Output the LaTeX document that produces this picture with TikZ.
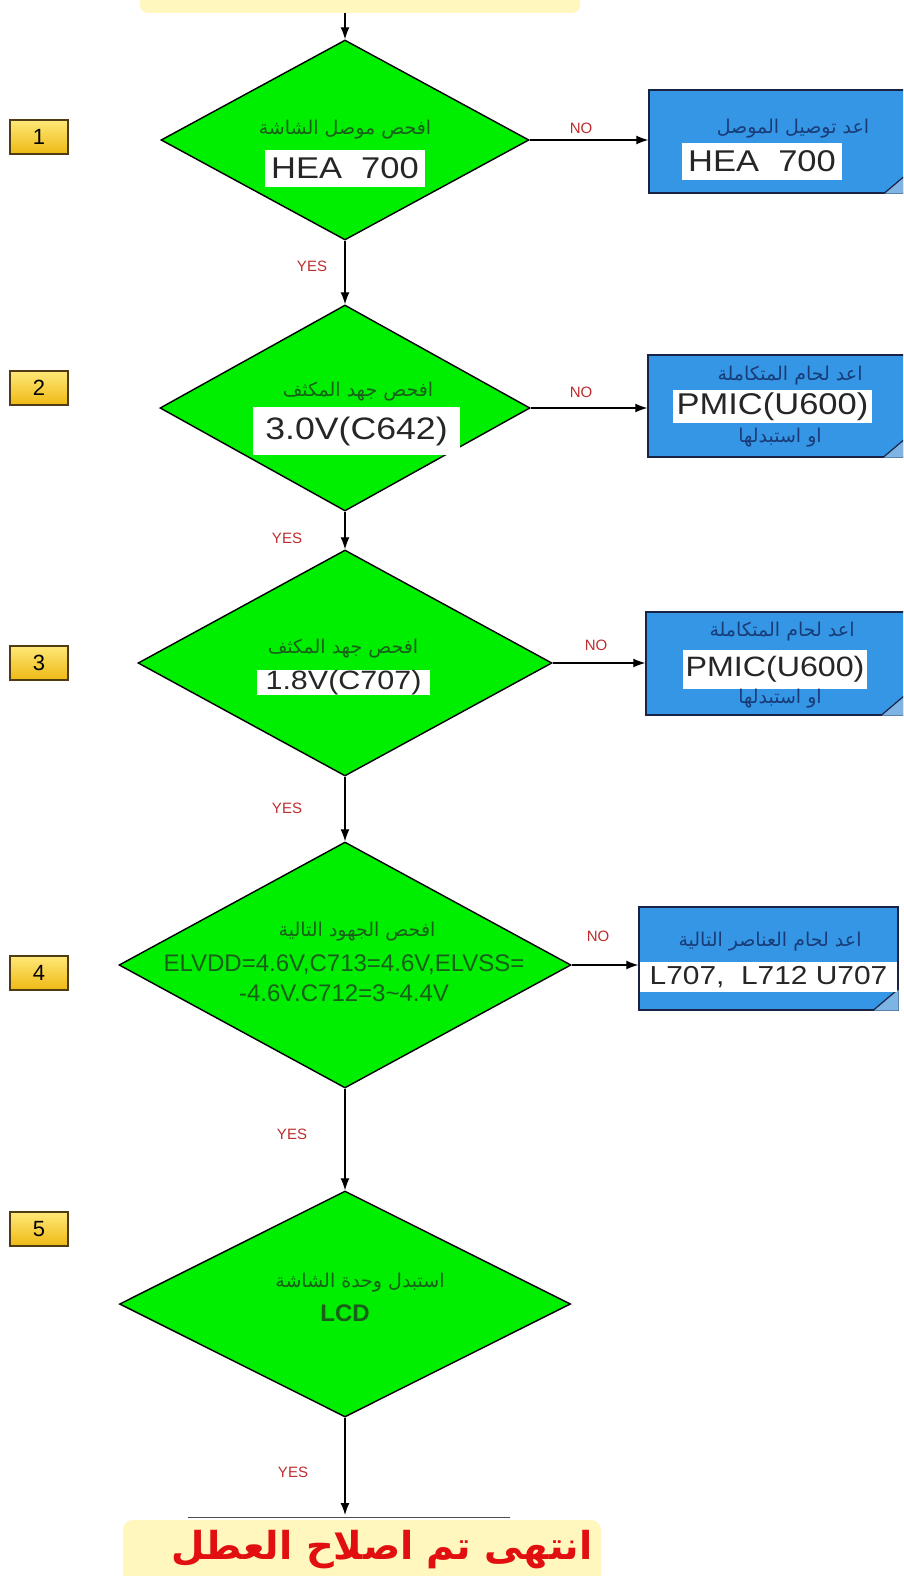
\documentclass[tikz,border=0pt]{standalone}
\usepackage{fontspec}
\setmainfont{Liberation Sans}
\newfontfamily\lab[FakeStretch=1.15]{Liberation Sans}
\newfontfamily\arabicfont[Script=Arabic]{DejaVu Sans}
\TeXXeTstate=1
\usetikzlibrary{shapes.geometric,arrows.meta,calc}
\definecolor{dgreen}{RGB}{0,238,0}
\definecolor{dtext}{RGB}{25,95,25}
\definecolor{bfill}{RGB}{52,150,228}
\definecolor{bline}{RGB}{25,35,70}
\definecolor{btext}{RGB}{25,60,120}
\definecolor{lblred}{RGB}{190,45,45}
\definecolor{pale}{RGB}{255,247,190}
\definecolor{endred}{RGB}{225,15,15}
\definecolor{goldtop}{RGB}{255,232,120}
\definecolor{goldbot}{RGB}{238,185,20}
\definecolor{foldc}{RGB}{125,180,228}
\tikzset{
 dia/.style={diamond, draw=black, line width=1.4pt, fill=dgreen, inner sep=0pt},
 bluebox/.style={rectangle, draw=bline, line width=1.4pt, fill=bfill, inner sep=0pt},
 wbox/.style={rectangle, fill=white, inner sep=0pt, text=black!85},
 artxt/.style={text=dtext, inner sep=0pt},
 bartxt/.style={text=btext, inner sep=0pt},
 lbl/.style={text=lblred, font=\fontsize{15}{17}\selectfont, inner sep=0pt},
 arr/.style={draw=black, line width=1.3pt, -{Latex[length=12pt,width=9pt]}},
 numbox/.style={rectangle, draw={rgb,255:red,80;green,60;blue,20}, line width=1.4pt, top color=goldtop, bottom color=goldbot, minimum width=58pt, minimum height=34pt, inner sep=0pt, font=\fontsize{22}{24}\selectfont},
 fold/.style={draw=bline, line width=1.2pt},
 arsm/.style={font=\fontsize{19}{21}\selectfont},
}
\newcommand{\artext}[1]{\arabicfont\beginR #1\endR}
\begin{document}
\begin{tikzpicture}[x=1pt,y=-1pt]
\useasboundingbox (0,0) rectangle (903,1576);
\clip (0,0) rectangle (903,1576);
\fill[white] (0,0) rectangle (903,1576);

% top banner
\node[fill=pale, rounded corners=8pt, minimum width=440pt, minimum height=40pt, inner sep=0pt] (topbar) at (360,-7) {};

% number boxes
\node[numbox] (n1) at (39,137) {1};
\node[numbox] (n2) at (39,388) {2};
\node[numbox] (n3) at (39,663) {3};
\node[numbox] (n4) at (39,973) {4};
\node[numbox] (n5) at (39,1229) {5};

% diamonds
\node[dia, minimum width=368pt, minimum height=200pt] (d1) at (345,140) {};
\node[dia, minimum width=370pt, minimum height=206pt] (d2) at (345,408) {};
\node[dia, minimum width=414pt, minimum height=226pt] (d3) at (345,663) {};
\node[dia, minimum width=452pt, minimum height=246pt] (d4) at (345,965) {};
\node[dia, minimum width=451pt, minimum height=226pt] (d5) at (345,1304) {};

% blue boxes
\node[bluebox, minimum width=260pt, minimum height=103pt] (b1) at (779,141.5) {};
\node[bluebox, minimum width=260pt, minimum height=102pt] (b2) at (778,406) {};
\node[bluebox, minimum width=260pt, minimum height=103pt] (b3) at (776,663.5) {};
\node[bluebox, minimum width=259pt, minimum height=103pt] (b4) at (768.5,958.5) {};
\foreach \b in {b1,b2,b3,b4}{
  \fill[foldc] ($(\b.south east)+(-26,0)$) -- ($(\b.south east)+(0,-22)$) -- (\b.south east) -- cycle;
  \draw[fold] ($(\b.south east)+(-26,0)$) -- ($(\b.south east)+(0,-22)$);
}

% texts in diamonds
\node[artxt, arsm] (t1a) at (345,130) {\artext{افحص موصل الشاشة}};
\node[wbox, minimum width=160pt, minimum height=37pt, font=\lab\fontsize{30}{32}\selectfont] (t1b) at (345,168.5) {HEA\ \ 700};

\node[artxt, arsm] (t2a) at (358,392) {\artext{افحص جهد المكثف}};
\node[wbox, minimum width=207pt, minimum height=48pt, font=\lab\fontsize{31}{33}\selectfont] (t2b) at (356.5,431) {3.0V(C642)};

\node[artxt, arsm] (t3a) at (343,649) {\artext{افحص جهد المكثف}};
\node[wbox, minimum width=173pt, minimum height=25pt, font=\lab\fontsize{26.5}{28}\selectfont] (t3b) at (343.5,682.5) {1.8V(C707)};

\node[artxt, arsm] (t4a) at (357,932) {\artext{افحص الجهود التالية}};
\node[artxt, align=center, font=\fontsize{24}{30}\selectfont] (t4b) at (344,978) {ELVDD=4.6V,C713=4.6V,ELVSS=\\-4.6V.C712=3\textasciitilde4.4V};

\node[artxt, arsm] (t5a) at (360,1283) {\artext{استبدل وحدة الشاشة}};
\node[artxt, font=\bfseries\fontsize{24}{26}\selectfont] (t5b) at (345,1313) {LCD};

% texts in blue boxes
\node[bartxt, arsm] (s1a) at (793,129) {\artext{اعد توصيل الموصل}};
\node[wbox, minimum width=160pt, minimum height=37pt, font=\lab\fontsize{30}{32}\selectfont] (s1b) at (762,161.5) {HEA\ \ 700};

\node[bartxt, arsm] (s2a) at (790,376) {\artext{اعد لحام المتكاملة}};
\node[wbox, minimum width=199pt, minimum height=33pt, font=\lab\fontsize{30}{32}\selectfont] (s2b) at (772.5,406.5) {PMIC(U600)};
\node[bartxt, arsm] (s2c) at (780,438) {\artext{او استبدلها}};

\node[bartxt, arsm] (s3a) at (782,632) {\artext{اعد لحام المتكاملة}};
\node[wbox, minimum width=184pt, minimum height=39pt, font=\lab\fontsize{28}{30}\selectfont] (s3b) at (775,669.5) {PMIC(U600)};
\node[bartxt, arsm] (s3c) at (780,699) {\artext{او استبدلها}};

\node[bartxt, arsm] (s4a) at (770,942) {\artext{اعد لحام العناصر التالية}};
\node[wbox, minimum width=257pt, minimum height=30pt, font=\lab\fontsize{26}{28}\selectfont] (s4b) at (768.5,977) {L707,\ \ L712 U707};

% bottom banner
\node[fill=pale, rounded corners=10pt, minimum width=478pt, minimum height=80pt, inner sep=0pt] (endbar) at (362,1560) {};
\coordinate (endtop) at (345,1515);
\draw[gray!60!black, line width=1pt] (188,1517) -- (510,1517);
\node[text=endred, font=\arabicfont\bfseries\fontsize{38.5}{42}\selectfont, inner sep=0pt] (endt) at (382,1550) {\beginR انتهى تم اصلاح العطل\endR};

% connectors
\draw[arr] (topbar.south -| d1.north) -- (d1.north);
\draw[arr] (d1.south) -- (d2.north);
\draw[arr] (d2.south) -- (d3.north);
\draw[arr] (d3.south) -- (d4.north);
\draw[arr] (d4.south) -- (d5.north);
\draw[arr] (d5.south) -- (endtop);
\draw[arr] (d1.east) -- (d1.east -| b1.west);
\draw[arr] (d2.east) -- (d2.east -| b2.west);
\draw[arr] (d3.east) -- (d3.east -| b3.west);
\draw[arr] (d4.east) -- (d4.east -| b4.west);

% labels
\node[lbl] (no1) at (581,128) {NO};
\node[lbl] (no2) at (581,392) {NO};
\node[lbl] (no3) at (596,645) {NO};
\node[lbl] (no4) at (598,936) {NO};
\node[lbl] (y1) at (312,266) {YES};
\node[lbl] (y2) at (287,538) {YES};
\node[lbl] (y3) at (287,808) {YES};
\node[lbl] (y4) at (292,1134) {YES};
\node[lbl] (y5) at (293,1472) {YES};
\end{tikzpicture}
\end{document}
